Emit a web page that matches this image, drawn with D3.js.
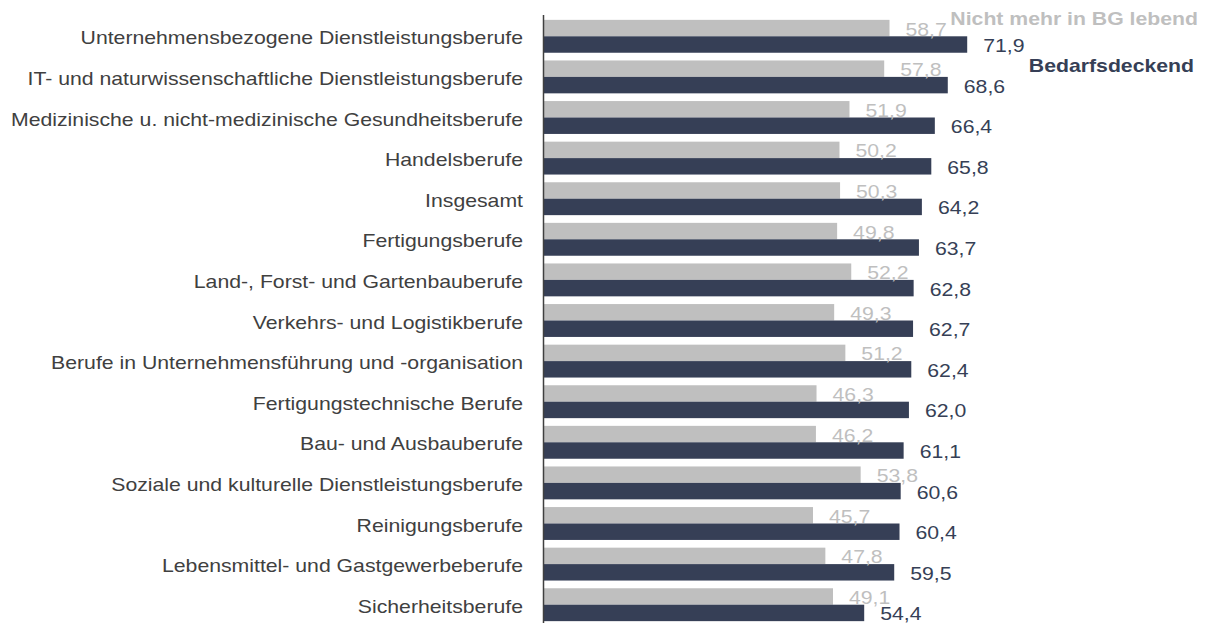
<!DOCTYPE html>
<html>
<head>
<meta charset="utf-8">
<script src="https://cdn.jsdelivr.net/npm/d3@7"></script>
<style>
  body { margin: 0; background: #fff; }
  text { font-family: "Liberation Sans", Arial, sans-serif; }
</style>
</head>
<body>
<script>
// categories, top to bottom
const categories = [
  "Unternehmensbezogene Dienstleistungsberufe",
  "IT- und naturwissenschaftliche Dienstleistungsberufe",
  "Medizinische u. nicht-medizinische Gesundheitsberufe",
  "Handelsberufe",
  "Insgesamt",
  "Fertigungsberufe",
  "Land-, Forst- und Gartenbauberufe",
  "Verkehrs- und Logistikberufe",
  "Berufe in Unternehmensführung und -organisation",
  "Fertigungstechnische Berufe",
  "Bau- und Ausbauberufe",
  "Soziale und kulturelle Dienstleistungsberufe",
  "Reinigungsberufe",
  "Lebensmittel- und Gastgewerbeberufe",
  "Sicherheitsberufe"
];
const nichtMehrInBG = [58.7, 57.8, 51.9, 50.2, 50.3, 49.8, 52.2, 49.3, 51.2, 46.3, 46.2, 53.8, 45.7, 47.8, 49.1];
const bedarfsdeckend = [71.9, 68.6, 66.4, 65.8, 64.2, 63.7, 62.8, 62.7, 62.4, 62.0, 61.1, 60.6, 60.4, 59.5, 54.4];
const seriesNames = ["Nicht mehr in BG lebend", "Bedarfsdeckend"];

if (typeof document !== 'undefined') {
  const width = 1212, height = 623;
  const colors = ["#bfbfbf", "#363f56"];
  const stretch = 1.18; // text in the original is a bit wider than Arial

  const svg = d3.select('body').append('svg')
    .attr('width', width)
    .attr('height', height);

  const x = d3.scaleLinear().domain([0, 80]).range([544, 544 + 80 * 5.886]);
  const y = d3.scaleBand().domain(categories).range([16, 625])
    .paddingInner(0.19).paddingOuter(0.095);
  const ySub = d3.scaleBand().domain([0, 1]).range([0, y.bandwidth()]);

  const fmt = v => d3.format(".1f")(v).replace(".", ",");
  const place = (tx, ty) => `translate(${tx},${ty}) scale(${stretch},1)`;

  const rows = categories.map((c, i) => ({c, vals: [nichtMehrInBG[i], bedarfsdeckend[i]]}));

  const g = svg.append('g');
  const grp = g.selectAll('g.row').data(rows).join('g')
    .attr('transform', d => `translate(0,${y(d.c)})`);

  grp.selectAll('rect').data(d => d.vals).join('rect')
    .attr('x', x(0))
    .attr('y', (d, j) => ySub(j))
    .attr('width', d => x(d) - x(0))
    .attr('height', ySub.bandwidth())
    .attr('fill', (d, j) => colors[j]);

  grp.selectAll('text.val').data(d => d.vals).join('text')
    .attr('class', 'val')
    .attr('transform', (d, j) => place(x(d) + 16, ySub(j) + ySub.bandwidth() / 2 + 7.5))
    .attr('font-size', 18)
    .attr('fill', (d, j) => colors[j])
    .text(fmt);

  // category labels
  g.selectAll('text.cat').data(categories).join('text')
    .attr('class', 'cat')
    .attr('transform', d => place(523, y(d) + y.bandwidth() / 2 + 8))
    .attr('text-anchor', 'end')
    .attr('font-size', 18)
    .attr('fill', '#404040')
    .text(d => d);

  // axis line
  svg.append('line')
    .attr('x1', 543.5).attr('x2', 543.5)
    .attr('y1', 15).attr('y2', 623)
    .attr('stroke', '#404040')
    .attr('stroke-width', 1.5);

  // legend labels
  svg.append('text')
    .attr('transform', place(1198, 25))
    .attr('text-anchor', 'end')
    .attr('font-size', 18).attr('font-weight', 'bold')
    .attr('fill', colors[0])
    .text(seriesNames[0]);
  svg.append('text')
    .attr('transform', place(1194, 72))
    .attr('text-anchor', 'end')
    .attr('font-size', 18).attr('font-weight', 'bold')
    .attr('fill', colors[1])
    .text(seriesNames[1]);
}
</script>
</body>
</html>
